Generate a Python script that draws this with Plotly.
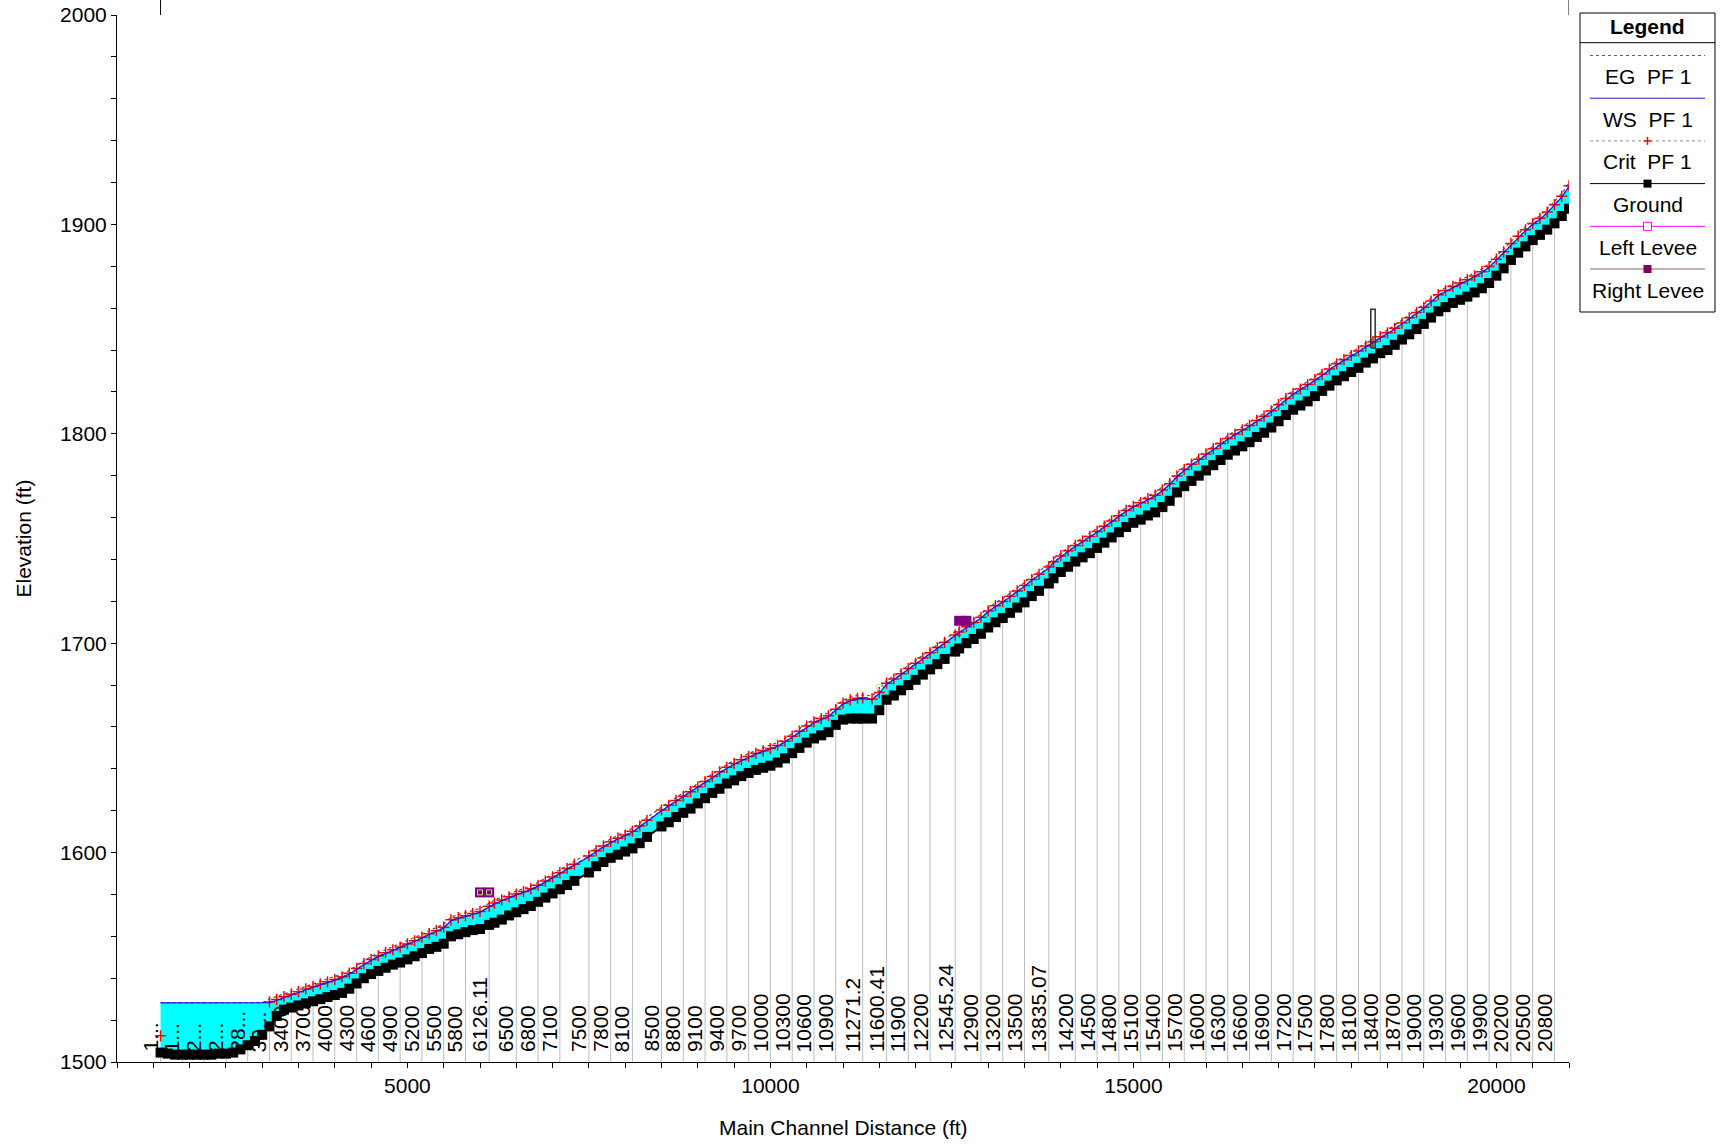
import plotly.graph_objects as go

# ---------------- data ----------------
STATIONS = [
    1600, 1700, 1800, 1900, 2000, 2100, 2200, 2300, 2400, 2500,
    2600, 2700, 2800, 2900, 3000, 3100, 3200, 3300, 3400, 3500,
    3600, 3700, 3800, 3900, 4000, 4100, 4200, 4300, 4400, 4500,
    4600, 4700, 4800, 4900, 5000, 5100, 5200, 5300, 5400, 5500,
    5600, 5700, 5800, 5900, 6000, 6126.11, 6200, 6300, 6400, 6500,
    6600, 6700, 6800, 6900, 7000, 7100, 7200, 7300, 7500, 7600,
    7700, 7800, 7900, 8000, 8100, 8200, 8300, 8500, 8600, 8700,
    8800, 8900, 9000, 9100, 9200, 9300, 9400, 9500, 9600, 9700,
    9800, 9900, 10000, 10100, 10200, 10300, 10400, 10500, 10600, 10700,
    10800, 10900, 11000, 11100, 11200, 11271.2, 11400, 11500, 11600.41, 11700,
    11800, 11900, 12000, 12100, 12200, 12300, 12400, 12545.24, 12600, 12700,
    12800, 12900, 13000, 13100, 13200, 13300, 13400, 13500, 13600, 13700,
    13835.07, 13900, 14000, 14100, 14200, 14300, 14400, 14500, 14600, 14700,
    14800, 14900, 15000, 15100, 15200, 15300, 15400, 15500, 15600, 15700,
    15800, 15900, 16000, 16100, 16200, 16300, 16400, 16500, 16600, 16700,
    16800, 16900, 17000, 17100, 17200, 17300, 17400, 17500, 17600, 17700,
    17800, 17900, 18000, 18100, 18200, 18300, 18400, 18500, 18600, 18700,
    18800, 18900, 19000, 19100, 19200, 19300, 19400, 19500, 19600, 19700,
    19800, 19900, 20000, 20100, 20200, 20300, 20400, 20500, 20600, 20700,
    20800, 20900, 21000,
]

GROUND = [
    1504.5, 1504, 1503.5, 1503.5, 1503.5, 1503.5, 1503.5, 1503.5, 1504, 1504,
    1504.5, 1506, 1508, 1510, 1513, 1517, 1522, 1525, 1526, 1527,
    1528, 1529, 1530, 1531, 1532, 1533, 1535, 1537.5, 1540, 1542,
    1543.5, 1545, 1546.5, 1547.5, 1549, 1550.5, 1552, 1554, 1555, 1556.5,
    1560, 1561, 1562, 1563, 1563.5, 1565.5, 1566.5, 1568, 1570, 1571.5,
    1573, 1574.5, 1576.5, 1578.5, 1580.5, 1582.5, 1584.5, 1586.5, 1590.5, 1593.5,
    1595.5, 1597.5, 1599, 1600.5, 1602, 1604.5, 1607.5, 1612.5, 1614.5, 1617,
    1619, 1621, 1623.5, 1626, 1628.5, 1630.5, 1633, 1634.5, 1636.5, 1638,
    1639.5, 1640.5, 1641.5, 1643, 1645, 1647.5, 1650, 1652.5, 1654.5, 1656,
    1657.5, 1661, 1663.5, 1664, 1664, 1664, 1664, 1668, 1673, 1675,
    1677.5, 1680, 1682.5, 1685, 1687.5, 1690, 1692.5, 1696, 1697.5, 1700,
    1702, 1704.5, 1707.5, 1710, 1712, 1714.5, 1717, 1719.5, 1722.5, 1725,
    1728.5, 1731, 1734, 1736.5, 1739, 1741, 1743, 1745.5, 1748, 1750.5,
    1753, 1755.5, 1757.5, 1759, 1761, 1762.5, 1765, 1768, 1772, 1775,
    1777.5, 1780, 1782.5, 1785, 1787.5, 1790, 1792, 1794, 1796, 1798.5,
    1800.5, 1803, 1806, 1809, 1811.5, 1813.5, 1815.5, 1818, 1820.5, 1823,
    1825.5, 1827.5, 1829.5, 1831.5, 1834, 1836, 1838.5, 1840, 1842.5, 1845,
    1847.5, 1850, 1852.5, 1855.5, 1858.5, 1860.5, 1862.5, 1864, 1865.5, 1867.5,
    1869.5, 1872, 1875.5, 1879, 1883, 1886.5, 1889.5, 1892.5, 1895, 1897.5,
    1900.5, 1904, 1907.5,
]

WS_PF1 = [
    1528.2, 1528.2, 1528.2, 1528.2, 1528.2, 1528.2, 1528.2, 1528.2, 1528.2, 1528.2,
    1528.2, 1528.2, 1528.2, 1528.2, 1528.2, 1528.3, 1529.5, 1530.8, 1532, 1533.2,
    1534.5, 1535.7, 1536.8, 1537.9, 1539, 1540.3, 1542, 1544.3, 1546.6, 1548.6,
    1550.3, 1551.8, 1553.2, 1554.5, 1556, 1557.5, 1559.2, 1560.9, 1562.3, 1564,
    1567.5, 1568.5, 1569.5, 1570.5, 1571.5, 1574, 1575.5, 1577, 1578.5, 1579.8,
    1581, 1582.3, 1584, 1586, 1588, 1590, 1592, 1594, 1598, 1600.5,
    1602.8, 1604.8, 1606.5, 1608, 1609.8, 1612.3, 1615, 1620, 1622.2, 1624.5,
    1626.5, 1628.7, 1631, 1633.5, 1636, 1638.2, 1640.3, 1642.2, 1644, 1645.5,
    1647, 1648.2, 1649.3, 1650.8, 1652.8, 1655.2, 1657.6, 1660, 1662, 1663.6,
    1665, 1668, 1671, 1672.5, 1673.3, 1673.5, 1673, 1676, 1680.5, 1682.5,
    1685, 1687.5, 1690, 1692.5, 1695, 1697.5, 1700, 1703.5, 1705, 1707.5,
    1709.5, 1712, 1715, 1717.5, 1719.5, 1722, 1724.5, 1727.2, 1730, 1732.5,
    1736, 1738.5, 1741.3, 1743.8, 1746.3, 1748.5, 1750.6, 1753, 1755.5, 1758,
    1760.5, 1763, 1765, 1766.7, 1768.6, 1770.3, 1772.8, 1775.8, 1779.5, 1782.5,
    1785, 1787.5, 1790, 1792.5, 1795, 1797.4, 1799.5, 1801.5, 1803.6, 1806,
    1808, 1810.6, 1813.5, 1816.4, 1818.9, 1821, 1823.1, 1825.5, 1828, 1830.5,
    1833, 1835, 1837, 1839.2, 1841.5, 1843.6, 1846, 1847.8, 1850, 1852.5,
    1855, 1857.5, 1860, 1863, 1866, 1868, 1870, 1871.6, 1873.2, 1875,
    1877, 1879.5, 1883, 1886.5, 1890.5, 1894, 1897, 1900, 1902.5, 1905.5,
    1909, 1913, 1918,
]

EG_PF1 = [
    1528.3, 1528.3, 1528.3, 1528.3, 1528.3, 1528.3, 1528.3, 1528.3, 1528.3, 1528.3,
    1528.3, 1528.3, 1528.3, 1528.3, 1528.3, 1530.1, 1531.3, 1532.6, 1533.8, 1535,
    1536.3, 1537.5, 1538.6, 1539.7, 1540.8, 1542.1, 1543.8, 1546.1, 1548.4, 1550.4,
    1552.1, 1553.6, 1555, 1556.3, 1557.8, 1559.3, 1561, 1562.7, 1564.1, 1565.8,
    1569.3, 1570.3, 1571.3, 1572.3, 1573.3, 1575.8, 1577.3, 1578.8, 1580.3, 1581.6,
    1582.8, 1584.1, 1585.8, 1587.8, 1589.8, 1591.8, 1593.8, 1595.8, 1599.8, 1602.3,
    1604.6, 1606.6, 1608.3, 1609.8, 1611.6, 1614.1, 1616.8, 1621.8, 1624, 1626.3,
    1628.3, 1630.5, 1632.8, 1635.3, 1637.8, 1640, 1642.1, 1644, 1645.8, 1647.3,
    1648.8, 1650, 1651.1, 1652.6, 1654.6, 1657, 1659.4, 1661.8, 1663.8, 1665.4,
    1666.8, 1669.8, 1672.8, 1674.3, 1675.1, 1675.3, 1674.8, 1677.8, 1682.3, 1684.3,
    1686.8, 1689.3, 1691.8, 1694.3, 1696.8, 1699.3, 1701.8, 1705.3, 1706.8, 1709.3,
    1711.3, 1713.8, 1716.8, 1719.3, 1721.3, 1723.8, 1726.3, 1729, 1731.8, 1734.3,
    1737.8, 1740.3, 1743.1, 1745.6, 1748.1, 1750.3, 1752.4, 1754.8, 1757.3, 1759.8,
    1762.3, 1764.8, 1766.8, 1768.5, 1770.4, 1772.1, 1774.6, 1777.6, 1781.3, 1784.3,
    1786.8, 1789.3, 1791.8, 1794.3, 1796.8, 1799.2, 1801.3, 1803.3, 1805.4, 1807.8,
    1809.8, 1812.4, 1815.3, 1818.2, 1820.7, 1822.8, 1824.9, 1827.3, 1829.8, 1832.3,
    1834.8, 1836.8, 1838.8, 1841, 1843.3, 1845.4, 1847.8, 1849.6, 1851.8, 1854.3,
    1856.8, 1859.3, 1861.8, 1864.8, 1867.8, 1869.8, 1871.8, 1873.4, 1875, 1876.8,
    1878.8, 1881.3, 1884.8, 1888.3, 1892.3, 1895.8, 1898.8, 1901.8, 1904.3, 1907.3,
    1910.8, 1914.8, 1919.8,
]

CRIT_PF1 = [
    1512.5, None, None, None, None, None, None, None, None, None,
    None, None, None, None, None, 1528.7, 1529.9, 1531.2, 1532.4, 1533.6,
    1534.9, 1536.1, 1537.2, 1538.3, 1539.4, 1540.7, 1542.4, 1544.7, 1547, 1549,
    1550.7, 1552.2, 1553.6, 1554.9, 1556.4, 1557.9, 1559.6, 1561.3, 1562.7, 1564.4,
    1567.9, 1568.9, 1569.9, 1570.9, 1571.9, 1574.4, 1575.9, 1577.4, 1578.9, 1580.2,
    1581.4, 1582.7, 1584.4, 1586.4, 1588.4, 1590.4, 1592.4, 1594.4, 1598.4, 1600.9,
    1603.2, 1605.2, 1606.9, 1608.4, 1610.2, 1612.7, 1615.4, 1620.4, 1622.6, 1624.9,
    1626.9, 1629.1, 1631.4, 1633.9, 1636.4, 1638.6, 1640.7, 1642.6, 1644.4, 1645.9,
    1647.4, 1648.6, 1649.7, 1651.2, 1653.2, 1655.6, 1658, 1660.4, 1662.4, 1664,
    1665.4, 1668.4, 1671.4, 1672.9, 1673.7, 1673.9, 1673.4, 1676.4, 1680.9, 1682.9,
    1685.4, 1687.9, 1690.4, 1692.9, 1695.4, 1697.9, 1700.4, 1703.9, 1705.4, 1707.9,
    1709.9, 1712.4, 1715.4, 1717.9, 1719.9, 1722.4, 1724.9, 1727.6, 1730.4, 1732.9,
    1736.4, 1738.9, 1741.7, 1744.2, 1746.7, 1748.9, 1751, 1753.4, 1755.9, 1758.4,
    1760.9, 1763.4, 1765.4, 1767.1, 1769, 1770.7, 1773.2, 1776.2, 1779.9, 1782.9,
    1785.4, 1787.9, 1790.4, 1792.9, 1795.4, 1797.8, 1799.9, 1801.9, 1804, 1806.4,
    1808.4, 1811, 1813.9, 1816.8, 1819.3, 1821.4, 1823.5, 1825.9, 1828.4, 1830.9,
    1833.4, 1835.4, 1837.4, 1839.6, 1841.9, 1844, 1846.4, 1848.2, 1850.4, 1852.9,
    1855.4, 1857.9, 1860.4, 1863.4, 1866.4, 1868.4, 1870.4, 1872, 1873.6, 1875.4,
    1877.4, 1879.9, 1883.4, 1886.9, 1890.9, 1894.4, 1897.4, 1900.4, 1902.9, 1905.9,
    1909.4, 1913.4, 1918.4,
]

LEFT_LEVEE_X = [6000, 6126.11, None, 11500]
LEFT_LEVEE_Y = [1581, 1581, None, 1679]
RIGHT_LEVEE_X = [6000, 6126.11, None, 12600, 12700]
RIGHT_LEVEE_Y = [1581, 1581, None, 1710.7, 1710.7]

STRUCT_X = [18270, 18330, 18330, 18270, 18270]
STRUCT_Y = [1841, 1841, 1859.5, 1859.5, 1841]

LABEL_STATIONS = [1600, 1900, 2200, 2500, 2800, 3100,
                  3400, 3700, 4000, 4300, 4600, 4900, 5200, 5500, 5800, 6126.11,
                  6500, 6800, 7100, 7500, 7800, 8100, 8500, 8800, 9100, 9400,
                  9700, 10000, 10300, 10600, 10900, 11271.2, 11600.41, 11900,
                  12200, 12545.24, 12900, 13200, 13500, 13835.07, 14200, 14500,
                  14800, 15100, 15400, 15700, 16000, 16300, 16600, 16900, 17200,
                  17500, 17800, 18100, 18400, 18700, 19000, 19300, 19600, 19900,
                  20200, 20500, 20800]
LABEL_TEXT = ["1...", "1...", "2...", "2...", "28...", "30...",
              "3400", "3700", "4000", "4300", "4600", "4900", "5200", "5500", "5800", "6126.11",
              "6500", "6800", "7100", "7500", "7800", "8100", "8500", "8800", "9100", "9400",
              "9700", "10000", "10300", "10600", "10900", "11271.2", "11600.41", "11900",
              "12200", "12545.24", "12900", "13200", "13500", "13835.07", "14200", "14500",
              "14800", "15100", "15400", "15700", "16000", "16300", "16600", "16900", "17200",
              "17500", "17800", "18100", "18400", "18700", "19000", "19300", "19600", "19900",
              "20200", "20500", "20800"]

LEGEND_NAMES = ["EG  PF 1", "WS  PF 1", "Crit  PF 1", "Ground", "Left Levee", "Right Levee"]

X_TICKS = [5000, 10000, 15000, 20000]
Y_TICKS = [1500, 1600, 1700, 1800, 1900, 2000]

# ---------------- figure ----------------
W, H = 1723, 1144
ML, MR, MT, MB = 117, 154, 15, 82
PW, PH = W - ML - MR, H - MT - MB
FONT = "Liberation Sans, Arial, sans-serif"


def px(x):
    return (x - ML) / PW


def py(y):
    return (H - MB - y) / PH


ground_at = dict(zip(STATIONS, GROUND))

fig = go.Figure()

gx, gy = [], []
for s in LABEL_STATIONS:
    gx += [s, s, None]
    gy += [1500, ground_at[s], None]
fig.add_trace(go.Scatter(x=gx, y=gy, mode="lines", line=dict(color="#BDBDBD", width=1),
                         hoverinfo="skip", showlegend=False))

fig.add_trace(go.Scatter(x=STATIONS + STATIONS[::-1], y=WS_PF1 + GROUND[::-1],
                         fill="toself", fillcolor="#00FFFF", mode="lines",
                         line=dict(width=0, color="rgba(0,0,0,0)"), showlegend=False,
                         hoverinfo="skip"))

fig.add_trace(go.Scatter(x=STATIONS, y=GROUND, mode="lines+markers", name="Ground",
                         line=dict(color="black", width=2),
                         marker=dict(symbol="square", size=10, color="black"),
                         showlegend=False))

fig.add_trace(go.Scatter(x=STATIONS, y=EG_PF1, mode="lines", name="EG  PF 1",
                         line=dict(color="#555555", width=1.2, dash="dot"),
                         showlegend=False))

fig.add_trace(go.Scatter(x=STATIONS, y=CRIT_PF1, mode="lines+markers", name="Crit  PF 1",
                         line=dict(color="#B05050", width=1, dash="dot"),
                         marker=dict(symbol="cross-thin", size=8,
                                     line=dict(color="#FF0000", width=1.5)),
                         connectgaps=False, showlegend=False))

fig.add_trace(go.Scatter(x=STATIONS, y=WS_PF1, mode="lines", name="WS  PF 1",
                         line=dict(color="#1010F0", width=1.2), showlegend=False))

fig.add_trace(go.Scatter(x=RIGHT_LEVEE_X, y=RIGHT_LEVEE_Y, mode="markers", name="Right Levee",
                         marker=dict(symbol="square", size=10, color="#800080"),
                         showlegend=False))
fig.add_trace(go.Scatter(x=LEFT_LEVEE_X, y=LEFT_LEVEE_Y, mode="markers", name="Left Levee",
                         marker=dict(symbol="square-open", size=5,
                                     line=dict(color="#D070D0", width=1)),
                         showlegend=False))

fig.add_trace(go.Scatter(x=STRUCT_X, y=STRUCT_Y, mode="lines",
                         line=dict(color="#303030", width=1.5), showlegend=False,
                         hoverinfo="skip"))

annotations = []
for s, t in zip(LABEL_STATIONS, LABEL_TEXT):
    annotations.append(dict(x=s, y=1500, xref="x", yref="y", text=t, textangle=-90,
                            showarrow=False, xanchor="right", yanchor="bottom",
                            xshift=3, yshift=8,
                            font=dict(family=FONT, size=21, color="black")))

annotations.append(dict(x=0.5, y=py(1127), xref="paper", yref="paper",
                        text="Main Channel Distance (ft)", showarrow=False,
                        xanchor="center", yanchor="middle",
                        font=dict(family=FONT, size=21, color="black")))
annotations.append(dict(x=px(23), y=0.5, xref="paper", yref="paper",
                        text="Elevation (ft)", showarrow=False, textangle=-90,
                        xanchor="center", yanchor="middle",
                        font=dict(family=FONT, size=21, color="black")))

shapes = []
# fragments of the frame above the plot
for xv in [1600, 21000]:
    shapes.append(dict(type="line", xref="x", yref="paper", x0=xv, x1=xv, y0=1, y1=1.05,
                       line=dict(color="black", width=1)))

# legend box
LX0, LX1, LY0, LY1 = 1580, 1715, 13, 312
shapes.append(dict(type="rect", xref="paper", yref="paper", x0=px(LX0), x1=px(LX1),
                   y0=py(LY1), y1=py(LY0), line=dict(color="black", width=1),
                   fillcolor="white", layer="above"))
shapes.append(dict(type="line", xref="paper", yref="paper", x0=px(LX0), x1=px(LX1),
                   y0=py(42.7), y1=py(42.7), line=dict(color="black", width=1)))
annotations.append(dict(x=px((LX0 + LX1) / 2), y=py(26), xref="paper", yref="paper",
                        text="<b>Legend</b>", showarrow=False, xanchor="center",
                        yanchor="middle", font=dict(family=FONT, size=21, color="black")))

sample_styles = [
    dict(color="#606060", dash="dot"),
    dict(color="#2020D0", dash="solid"),
    dict(color="#909090", dash="dot"),
    dict(color="black", dash="solid"),
    dict(color="#FF00FF", dash="solid"),
    dict(color="#806080", dash="solid"),
]
SX0, SX1, SXC = 1590, 1705, 1647.5
for i, name in enumerate(LEGEND_NAMES):
    ly = 55.5 + 42.7 * i
    ty = ly + 21
    st = sample_styles[i]
    shapes.append(dict(type="line", xref="paper", yref="paper", x0=px(SX0), x1=px(SX1),
                       y0=py(ly), y1=py(ly), line=dict(color=st["color"], width=1,
                                                       dash=st["dash"])))
    annotations.append(dict(x=px(SXC), y=py(ty), xref="paper", yref="paper", text=name,
                            showarrow=False, xanchor="center", yanchor="middle",
                            font=dict(family=FONT, size=21, color="black")))
    if name.startswith("Crit"):
        shapes.append(dict(type="line", xref="paper", yref="paper", x0=px(SXC - 4),
                           x1=px(SXC + 4), y0=py(ly), y1=py(ly),
                           line=dict(color="red", width=1.5)))
        shapes.append(dict(type="line", xref="paper", yref="paper", x0=px(SXC), x1=px(SXC),
                           y0=py(ly - 4), y1=py(ly + 4), line=dict(color="red", width=1.5)))
    elif name == "Ground":
        shapes.append(dict(type="rect", xref="paper", yref="paper", x0=px(SXC - 4),
                           x1=px(SXC + 4), y0=py(ly + 4), y1=py(ly - 4),
                           fillcolor="black", line=dict(color="black", width=0)))
    elif name == "Left Levee":
        shapes.append(dict(type="rect", xref="paper", yref="paper", x0=px(SXC - 4),
                           x1=px(SXC + 4), y0=py(ly + 4), y1=py(ly - 4),
                           fillcolor="white", line=dict(color="#FF00FF", width=1)))
    elif name == "Right Levee":
        shapes.append(dict(type="rect", xref="paper", yref="paper", x0=px(SXC - 4),
                           x1=px(SXC + 4), y0=py(ly + 4), y1=py(ly - 4),
                           fillcolor="#800060", line=dict(color="#800060", width=0)))

fig.update_layout(
    width=W, height=H, autosize=False,
    margin=dict(l=ML, r=MR, t=MT, b=MB, pad=0, autoexpand=False),
    paper_bgcolor="white", plot_bgcolor="white",
    font=dict(family=FONT, size=21, color="black"),
    showlegend=False,
    annotations=annotations, shapes=shapes,
    xaxis=dict(range=[1000, 21000], showgrid=False, zeroline=False, showline=True,
               automargin=False,
               linecolor="black", linewidth=1, ticks="outside", ticklen=5, tickwidth=1,
               tickcolor="black", tickvals=X_TICKS, ticktext=[str(v) for v in X_TICKS],
               minor=dict(dtick=500, tick0=0, ticks="outside", ticklen=5,
                          tickcolor="black", showgrid=False),
               tickfont=dict(family=FONT, size=21)),
    yaxis=dict(range=[1500, 2000], showgrid=False, zeroline=False, showline=True,
               automargin=False,
               linecolor="black", linewidth=1, ticks="outside", ticklen=5, tickwidth=1,
               tickcolor="black", tickvals=Y_TICKS, ticktext=[str(v) for v in Y_TICKS],
               minor=dict(dtick=20, tick0=1500, ticks="outside", ticklen=5,
                          tickcolor="black", showgrid=False),
               tickfont=dict(family=FONT, size=21)),
)

fig.write_html("out.html", config={"displayModeBar": False},
               post_script="document.body.style.margin='0px';document.body.style.overflow='hidden';")
